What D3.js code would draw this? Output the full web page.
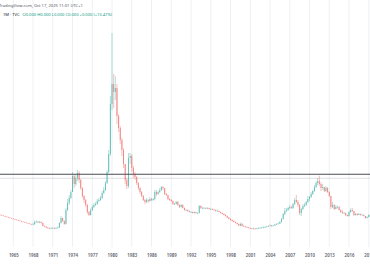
<!DOCTYPE html>
<html>
<head>
<meta charset="utf-8">
<script src="https://cdn.jsdelivr.net/npm/d3@7"></script>
<style>
    body { margin: 0; background: #fff; }
    text { font-family: "Noto Sans", sans-serif; }
</style>
</head>
<body>
<div id="chart"></div>
<script>
const WIDTH = 370
const HEIGHT = 280

// quarterly candles, first quarter is 1963 Q1, open = previous close
const START_YEAR = 1963
const FIRST_OPEN = 12.6
const CLOSE = [
    12.5, 12.2, 12.0, 11.7,  11.5, 11.2, 11.0, 10.7,  10.5, 10.2, 10.0, 9.7,  9.5, 9.2, 9.0, 8.7,
    8.5, 8.2, 8.0, 7.7,  7.8, 9.0, 9.2, 8.7,  9.0, 8.5, 7.0, 6.7,  6.2, 6.0, 5.7, 6.0,
    6.0, 5.7, 6.0, 6.2,  8.5, 11.0, 9.5, 8.0,  15.0, 18.5, 21.0, 24.0,  32.0, 28.0, 31.0, 33.5,
    30.0, 26.0, 22.0, 20.0,  17.5, 14.0, 12.5, 15.0,  16.5, 17.5, 18.0, 19.5,  20.0, 21.0, 23.5, 25.0,
    28.5, 34.0, 43.0, 68.0,  78.0, 74.0, 76.0, 62.0,  56.0, 50.0, 45.0, 38.0,  30.0, 27.0, 41.0, 42.0,
    36.0, 33.0, 31.5, 28.5,  26.0, 24.0, 22.0, 20.0,  19.0, 20.0, 19.5, 20.5,  20.0, 20.5, 24.0, 23.0,
    24.0, 25.0, 26.5, 26.0,  23.0, 22.5, 20.5, 20.0,  19.5, 18.0, 18.0, 19.0,  17.5, 16.5, 17.5, 16.0,
    15.0, 15.0, 14.5, 14.0,  14.0, 13.5, 14.0, 13.5,  13.5, 17.0, 16.0, 16.0,  16.0, 15.8, 16.0, 15.5,
    15.5, 15.2, 15.0, 14.5,  14.5, 14.0, 13.5, 13.0,  12.5, 12.0, 11.2, 10.5,  10.0, 9.5, 9.0, 8.5,
    8.0, 7.2, 8.0, 7.0,  6.7, 6.5, 6.2, 6.0,  5.7, 5.5, 5.7, 5.5,  5.8, 6.0, 6.0, 6.2,
    6.2, 6.5, 6.7, 7.0,  7.2, 7.0, 7.2, 7.7,  8.0, 8.2, 9.0, 10.5,  13.0, 14.5, 15.0, 16.0,
    16.5, 16.0, 18.0, 20.0,  19.0, 17.5, 13.5, 15.5,  17.0, 17.5, 19.0, 20.5,  21.5, 23.0, 24.5, 26.5,
    28.5, 29.5, 28.0, 26.0,  26.5, 24.5, 26.0, 24.0,  22.0, 16.5, 17.5, 15.5,  16.5, 16.5, 15.0, 14.0,
    13.5, 13.5, 12.5, 12.0,  14.0, 15.0, 14.5, 12.5,  13.0, 12.5, 13.0, 12.5,  12.5, 12.0, 11.0, 11.5,
    12.5, 12.0
]
const HIGH = [
    12.7, 12.6, 12.3, 12.1,  11.8, 11.6, 11.3, 11.1,  10.8, 10.6, 10.3, 10.1,  9.8, 9.6, 9.3, 9.1,
    8.8, 8.6, 8.3, 8.1,  8.6, 9.8, 9.8, 9.4,  9.6, 9.3, 8.7, 7.2,  6.9, 6.5, 6.2, 6.3,
    6.4, 6.3, 6.4, 6.6,  8.9, 12.0, 11.2, 9.8,  16.0, 20.5, 22.5, 25.0,  34.0, 33.0, 32.5, 35.0,
    34.5, 30.5, 26.5, 22.5,  20.5, 18.0, 14.5, 15.8,  17.3, 18.5, 19.0, 20.5,  21.0, 22.0, 24.5, 26.5,
    29.5, 35.0, 45.0, 72.0,  103.5, 83.0, 82.0, 78.0,  63.0, 57.0, 51.0, 46.0,  38.0, 31.0, 43.5, 43.5,
    43.0, 37.0, 34.0, 32.0,  29.0, 26.5, 24.5, 22.5,  20.5, 21.0, 20.5, 21.5,  21.0, 21.0, 25.0, 25.0,
    24.5, 26.0, 27.0, 27.0,  26.0, 23.5, 22.5, 21.0,  20.5, 19.8, 18.8, 19.5,  19.5, 17.8, 18.0, 17.8,
    16.3, 15.5, 15.3, 14.8,  14.4, 14.2, 14.3, 14.1,  13.9, 17.5, 17.3, 16.6,  16.5, 16.3, 16.4, 16.2,
    15.9, 15.8, 15.5, 15.2,  15.3, 14.7, 14.2, 13.8,  13.3, 12.8, 12.2, 11.5,  10.8, 10.3, 9.8, 9.3,
    8.8, 8.2, 8.7, 8.6,  7.6, 7.0, 6.8, 6.5,  6.3, 6.0, 6.2, 6.0,  6.1, 6.4, 6.4, 6.6,
    6.8, 6.9, 7.1, 7.4,  7.8, 7.6, 7.6, 8.1,  8.4, 8.7, 9.4, 11.0,  13.5, 16.0, 16.0, 16.5,
    17.5, 17.0, 18.5, 21.0,  22.5, 20.0, 18.0, 16.0,  18.0, 18.5, 19.5, 22.0,  22.0, 24.0, 25.0, 27.5,
    29.5, 31.0, 32.2, 29.0,  28.0, 26.5, 27.0, 26.5,  24.5, 22.0, 19.0, 18.0,  17.5, 17.2, 17.0, 15.3,
    14.8, 14.0, 13.7, 12.8,  14.5, 15.8, 16.0, 14.5,  13.5, 13.6, 13.6, 13.2,  13.2, 12.8, 12.0, 11.9,
    12.8, 12.9
]
const LOW = [
    12.4, 12.1, 11.9, 11.6,  11.4, 11.1, 10.9, 10.6,  10.4, 10.1, 9.9, 9.6,  9.4, 9.1, 8.9, 8.6,
    8.4, 8.1, 7.9, 7.6,  7.4, 7.8, 8.6, 8.4,  8.4, 8.2, 6.8, 6.4,  5.9, 5.6, 5.4, 5.5,
    5.6, 5.4, 5.5, 5.8,  6.0, 8.2, 9.0, 7.6,  7.8, 14.5, 17.5, 20.5,  24.0, 26.0, 27.0, 29.5,
    28.5, 25.0, 21.0, 18.5,  16.5, 13.0, 12.0, 12.2,  14.5, 16.0, 17.0, 17.5,  19.0, 19.5, 20.5, 23.0,
    24.5, 28.0, 33.5, 42.0,  65.0, 66.0, 70.0, 58.0,  54.0, 48.0, 42.0, 36.0,  28.0, 25.5, 26.0, 38.0,
    34.0, 31.0, 30.0, 27.5,  25.0, 23.0, 21.5, 19.5,  18.0, 18.5, 18.5, 19.0,  19.5, 19.5, 20.0, 22.0,
    22.5, 23.5, 24.5, 25.0,  22.5, 22.0, 20.0, 19.5,  19.0, 17.5, 17.5, 17.8,  17.0, 16.0, 16.2, 15.7,
    14.7, 14.6, 14.2, 13.7,  13.6, 13.2, 13.3, 13.2,  13.0, 13.3, 15.5, 15.6,  15.5, 15.4, 15.5, 15.2,
    15.0, 15.0, 14.7, 14.3,  14.2, 13.8, 13.3, 12.8,  12.2, 11.8, 11.0, 10.2,  9.8, 9.2, 8.8, 8.3,
    7.8, 7.0, 6.8, 6.8,  6.5, 6.3, 6.0, 5.8,  5.5, 5.3, 5.3, 5.2,  5.3, 5.6, 5.7, 5.8,
    5.9, 6.0, 6.3, 6.6,  6.8, 6.5, 6.8, 7.1,  7.5, 7.8, 8.0, 8.8,  10.3, 12.5, 14.0, 14.5,
    15.5, 15.5, 15.5, 17.5,  18.5, 16.5, 12.5, 12.0,  15.0, 16.5, 17.0, 18.5,  19.5, 21.0, 22.5, 24.0,
    26.0, 27.5, 27.0, 24.5,  25.0, 24.0, 24.0, 23.5,  21.5, 15.5, 16.0, 15.0,  15.3, 15.8, 14.7, 13.5,
    13.2, 13.0, 12.0, 11.7,  11.8, 13.5, 14.0, 12.0,  12.2, 12.2, 12.4, 12.2,  12.2, 11.8, 10.7, 10.8,
    11.3, 11.8
]

const YEAR_TICKS = [1965, 1968, 1971, 1974, 1977, 1980, 1983, 1986, 1989, 1992, 1995, 1998, 2001, 2004, 2007, 2010, 2013, 2016, 2019]
const LEVEL_LINE = 32.85
const GRID_LINE = 30.85

const HEADER_1 = 'TradingView.com, Oct 17, 2025 11:01 UTC+1'
const HEADER_SYMBOL = '1M · TVC'
const HEADER_VALUES = 'O0.000 H0.000 L0.000 C0.000 +0.000 (+13.47%)'

const UP = '#26a69a'
const DOWN = '#ef5350'

window.onload = function () {
    const svg = d3.select('#chart').append('svg').attr('width', WIDTH).attr('height', HEIGHT);

    const x = d3.scaleUtc()
        .domain([new Date(Date.UTC(1965, 0, 1)), new Date(Date.UTC(2016, 0, 1))])
        .range([13.3, 349])
    const y = d3.scaleLinear().domain([0, 110]).range([240, 20])

    // vertical grid
    svg.append('g').selectAll('line')
        .data(YEAR_TICKS)
        .enter()
        .append('line')
        .attr('x1', d => x(new Date(Date.UTC(d, 0, 1))))
        .attr('x2', d => x(new Date(Date.UTC(d, 0, 1))))
        .attr('y1', 0)
        .attr('y2', 247)
        .attr('stroke', '#eef0f4')
        .attr('stroke-width', 1)

    svg.append('line')
        .attr('x1', 0).attr('x2', WIDTH)
        .attr('y1', y(GRID_LINE)).attr('y2', y(GRID_LINE))
        .attr('stroke', '#d6d8de')
        .attr('stroke-width', 0.8)

    // candles
    let candles = CLOSE.map((c, i) => {
        let o = i === 0 ? FIRST_OPEN : CLOSE[i - 1]
        return {
            date: new Date(Date.UTC(START_YEAR, i * 3, 1)),
            open: o,
            close: c,
            high: Math.max(HIGH[i], o, c),
            low: Math.min(LOW[i], o, c)
        }
    })

    const g = svg.append('g').attr('id', 'candles').attr('opacity', 0.72);
    let bar = g.selectAll('g')
        .data(candles)
        .enter()
        .append('g')
        .attr('transform', d => `translate(${x(d.date)},0)`)

    bar.append('line')
        .attr('y1', d => y(d.high))
        .attr('y2', d => y(d.low))
        .attr('stroke', d => d.close >= d.open ? UP : DOWN)
        .attr('stroke-width', 0.5)

    bar.append('rect')
        .attr('x', -0.45)
        .attr('width', 0.9)
        .attr('y', d => y(Math.max(d.open, d.close)))
        .attr('height', d => Math.max(0.5, Math.abs(y(d.open) - y(d.close))))
        .attr('fill', d => d.close >= d.open ? UP : DOWN)

    // horizontal level
    svg.append('line')
        .attr('x1', 0).attr('x2', WIDTH)
        .attr('y1', y(LEVEL_LINE)).attr('y2', y(LEVEL_LINE))
        .attr('stroke', '#4a4d55')
        .attr('stroke-width', 1.1)

    // time axis
    const axis = d3.axisBottom(x)
        .tickValues(YEAR_TICKS.map(d => new Date(Date.UTC(d, 0, 1))))
        .tickFormat(d3.utcFormat('%Y'))
        .tickSize(0)
    let ax = svg.append('g')
        .attr('transform', 'translate(0,251)')
        .call(axis)
    ax.select('.domain').remove()
    ax.selectAll('text')
        .attr('font-family', '"Noto Sans", sans-serif')
        .attr('font-size', 4.3)
        .attr('font-weight', 600)
        .attr('fill', '#5d606b')

    // header
    svg.append('text')
        .attr('x', -1)
        .attr('y', 6.5)
        .attr('font-size', 4.1)
        .attr('fill', '#50535e')
        .text(HEADER_1)

    let h2 = svg.append('text')
        .attr('x', 3)
        .attr('y', 15.5)
        .attr('font-size', 4.1)
    h2.append('tspan').attr('fill', '#131722').text(HEADER_SYMBOL)
    h2.append('tspan').attr('fill', '#089981').attr('dx', 3).text(HEADER_VALUES)
}
</script>
</body>
</html>
